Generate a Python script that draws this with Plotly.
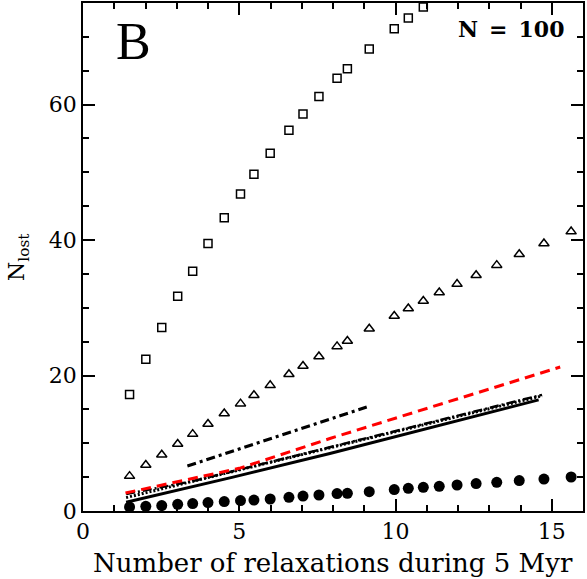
import plotly.graph_objects as go

# marker x positions (number of relaxations)
x_pts = [1.49, 2.01, 2.52, 3.03, 3.51, 4.00, 4.52, 5.04, 5.47, 5.99, 6.59, 7.04, 7.55,
         8.13, 8.46, 9.16, 9.96, 10.41, 10.89, 11.40, 11.97, 12.58, 13.24, 13.96, 14.75, 15.62]
sq_y = [17.2, 22.4, 27.1, 31.7, 35.4, 39.5, 43.3, 46.8, 49.7, 52.8, 56.2, 58.6, 61.2,
        63.9, 65.3, 68.2, 71.2, 72.8, 74.4]
tri_y = [5.15, 6.8, 8.3, 9.9, 11.35, 12.85, 14.4, 15.85, 17.1, 18.55, 20.2, 21.4, 22.8,
         24.3, 25.1, 26.9, 28.8, 29.9, 31.0, 32.25, 33.5, 34.8, 36.3, 37.9, 39.5, 41.25]
circ_y = [0.59, 0.69, 0.80, 0.99, 1.09, 1.24, 1.39, 1.54, 1.62, 1.77, 2.02, 2.21, 2.36,
          2.57, 2.61, 2.86, 3.16, 3.35, 3.50, 3.65, 3.84, 4.05, 4.24, 4.49, 4.72, 5.02]

# lines
solid_x = [1.38, 4.8, 7.9, 14.58]
solid_y = [1.3, 5.0, 8.5, 16.4]
dot_x = [1.38, 14.69]
dot_y = [1.98, 17.0]
dd_low_x = [1.38, 3.5, 14.69]
dd_low_y = [2.5, 4.4, 17.15]
dd_up_x = [3.34, 9.08]
dd_up_y = [6.64, 15.35]
red_x = [1.36, 3.0, 5.0, 7.9, 15.27]
red_y = [2.66, 4.3, 6.3, 10.7, 21.26]

fig = go.Figure()
fig.add_trace(go.Scatter(x=solid_x, y=solid_y, mode="lines",
                         line=dict(color="black", width=3)))
fig.add_trace(go.Scatter(x=dot_x, y=dot_y, mode="lines",
                         line=dict(color="black", width=3, dash="2px,2px")))
fig.add_trace(go.Scatter(x=dd_low_x, y=dd_low_y, mode="lines",
                         line=dict(color="black", width=2.5, dash="9px,3px,2px,3px")))
fig.add_trace(go.Scatter(x=dd_up_x, y=dd_up_y, mode="lines",
                         line=dict(color="black", width=3, dash="9px,4px,3px,4px")))
fig.add_trace(go.Scatter(x=red_x, y=red_y, mode="lines",
                         line=dict(color="#ff0000", width=3, dash="10px,6px")))
fig.add_trace(go.Scatter(x=x_pts[:len(sq_y)], y=sq_y, mode="markers",
                         marker=dict(symbol="square-open", size=8, color="black",
                                     line=dict(width=1.5))))
fig.add_trace(go.Scatter(x=x_pts, y=tri_y, mode="markers",
                         marker=dict(symbol="triangle-up-open", size=9, color="black",
                                     line=dict(width=1.5))))
fig.add_trace(go.Scatter(x=x_pts, y=circ_y, mode="markers",
                         marker=dict(symbol="circle", size=11, color="black")))

font = "DejaVu Serif"
axis_common = dict(showline=True, linecolor="black", linewidth=1.5, mirror="allticks",
                   ticks="inside", ticklen=12, tickwidth=1.5, tickcolor="black",
                   showgrid=False, zeroline=False, automargin=False,
                   tickfont=dict(family=font, size=22, color="black"))
fig.update_xaxes(range=[0, 16], tickvals=[0, 5, 10, 15],
                 minor=dict(dtick=1, ticks="inside", ticklen=6, tickcolor="black", tickwidth=1.5),
                 **axis_common)
fig.update_yaxes(range=[0, 75], tickvals=[0, 20, 40, 60],
                 minor=dict(dtick=5, ticks="inside", ticklen=6, tickcolor="black", tickwidth=1.5),
                 **axis_common)
fig.add_annotation(text="Number of relaxations during 5 Myr", xref="paper", yref="paper",
                   x=0.5, y=-0.102, xanchor="center", yanchor="middle", showarrow=False,
                   font=dict(family=font, size=26, color="black"))
fig.add_annotation(text="N<sub>lost</sub>", xref="paper", yref="paper",
                   x=-0.13, y=0.5, xanchor="center", yanchor="middle", showarrow=False,
                   textangle=-90, font=dict(family=font, size=22, color="black"))
fig.add_annotation(text="B", xref="paper", yref="paper", x=0.062, y=0.925,
                   xanchor="left", yanchor="middle", showarrow=False,
                   font=dict(family="Liberation Serif", size=52, color="black"))
fig.add_annotation(text="<b>N\u2002=\u2002100</b>", xref="paper", yref="paper",
                   x=0.966, y=0.948, xanchor="right", yanchor="middle", showarrow=False,
                   font=dict(family=font, size=22, color="black"))
fig.update_layout(width=587, height=579, showlegend=False,
                  plot_bgcolor="white", paper_bgcolor="white",
                  margin=dict(l=83, r=4, t=3, b=68))
fig.write_html("out.html", config={"displayModeBar": False},
               post_script="document.body.style.margin='0';document.body.style.padding='0';")
